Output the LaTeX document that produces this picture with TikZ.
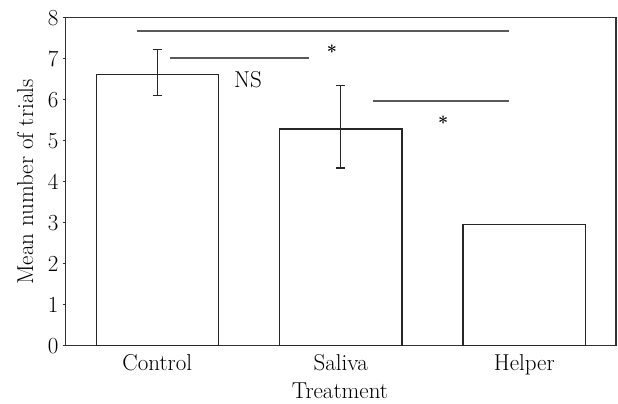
\documentclass[tikz,border=0pt]{standalone}
\usepackage{tikz}

\begin{document}
\begin{tikzpicture}[x=1pt, y=41pt, line width=1.4pt, font=\fontsize{23}{27}\selectfont]
        \tikzset{
            bar/.style={draw=black!85, fill=white},
            errbar/.style={draw=black!85},
            sigline/.style={draw=black!65, line width=1.7pt},
            star/.style={inner sep=0pt, font=\fontsize{18}{22}\selectfont\bfseries}
        }
        \useasboundingbox (-65.7,-1.398) rectangle (552.3,8.432);
        
        % Frame
        \draw[black!80] (0,0) rectangle (550.3,8);
        
        % Y ticks
        \foreach \v in {0,...,8} {
            \draw[black!80] (-3,\v) -- (0,\v);
            \node[anchor=east, inner sep=0pt] (ytick\v) at (-6.5,\v) {\v};
        }
        
        % Bars
        \draw[bar] (31,0) rectangle (153,6.61);
        \draw[bar] (213.6,0) rectangle (336.3,5.29);
        \draw[bar] (397.3,0) rectangle (520,2.96);
        
        % Error bars
        \coordinate (ctrlhi) at (91.6,7.23);
        \coordinate (ctrllo) at (91.6,6.10);
        \coordinate (salhi) at (275,6.34);
        \coordinate (sallo) at (275,4.33);
        \draw[errbar] (ctrllo) -- (ctrlhi)
            (ctrlhi) +(-4.5,0) -- +(4.5,0)
            (ctrllo) +(-4.5,0) -- +(4.5,0);
        \draw[errbar] (sallo) -- (salhi)
            (salhi) +(-4.5,0) -- +(4.5,0)
            (sallo) +(-4.5,0) -- +(4.5,0);
        
        % Significance lines
        \coordinate (topA) at (71.6,7.68);
        \coordinate (topB) at (443.3,7.68);
        \coordinate (nsA) at (104.6,7.02);
        \coordinate (nsB) at (243.6,7.02);
        \coordinate (lowA) at (307,5.97);
        \coordinate (lowB) at (443.3,5.97);
        \draw[sigline] (topA) -- (topB);
        \draw[sigline] (nsA) -- (nsB);
        \draw[sigline] (lowA) -- (lowB);
        \node[star] (star1) at (266.3,7.16) {*};
        \node[star] (star2) at (377.6,5.44) {*};
        \node (ns) at (182.3,6.50) {NS};
        
        % Labels
        \node[anchor=base] (ctrl) at (91.6,-0.61) {Control};
        \node[anchor=base] (saliva) at (275,-0.61) {Saliva};
        \node[anchor=base] (helper) at (458.6,-0.61) {Helper};
        \node[anchor=base, inner sep=0pt] (xlab) at (274.3,-1.28) {Treatment};
        \node[anchor=base, rotate=90, inner sep=0pt] (ylab) at (-32.7,3.99) {Mean number of trials};
    \end{tikzpicture}
\end{document}
